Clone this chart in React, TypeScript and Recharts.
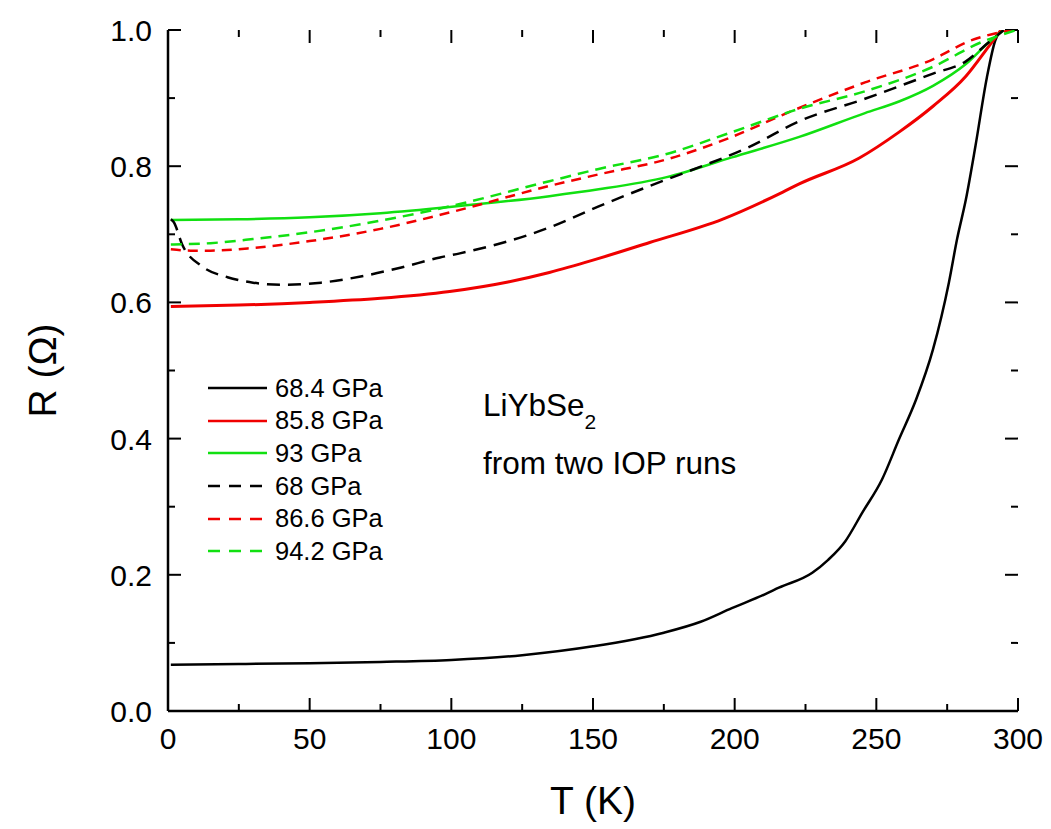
import { LineChart, Line, XAxis, YAxis, Legend, ReferenceLine } from 'recharts';

// R(T) curves
const t684 = [1, 25, 50, 75, 100, 125, 150, 175, 188, 199, 211, 215.6, 227.4, 233, 239, 245, 252, 258, 264, 270, 275.6, 278.5, 281.6, 285, 289, 292, 294];
const r684 = [0.068, 0.069, 0.07, 0.072, 0.075, 0.082, 0.095, 0.115, 0.131, 0.151, 0.172, 0.181, 0.203, 0.222, 0.249, 0.291, 0.34, 0.399, 0.457, 0.531, 0.629, 0.693, 0.751, 0.83, 0.93, 0.985, 1.0];

const t858 = [1, 25, 50, 75, 99.4, 120, 134.6, 150, 170, 195.6, 217, 222.8, 244, 258, 270, 281.6, 289.7, 294];
const r858 = [0.594, 0.596, 0.6, 0.606, 0.616, 0.63, 0.644, 0.662, 0.688, 0.722, 0.762, 0.774, 0.812, 0.85, 0.888, 0.932, 0.976, 1.0];

const t93 = [1, 25, 50, 75, 99.4, 134.6, 152, 176, 199, 222.8, 246, 258, 270, 281.6, 289.7, 295];
const r93 = [0.721, 0.722, 0.725, 0.731, 0.74, 0.756, 0.766, 0.784, 0.813, 0.843, 0.878, 0.895, 0.918, 0.95, 0.982, 1.0];

const t68 = [1, 2, 5, 12, 21, 30, 40, 54, 68, 82, 96, 103, 134.6, 152, 170, 184, 205, 222.8, 246, 270, 281.6, 289.7, 295];
const r68 = [0.722, 0.718, 0.685, 0.653, 0.637, 0.629, 0.626, 0.629, 0.638, 0.651, 0.666, 0.672, 0.71, 0.741, 0.771, 0.793, 0.828, 0.866, 0.899, 0.936, 0.954, 0.982, 1.0];

const t866 = [1, 8, 15, 30, 50, 75, 99.4, 134.6, 152, 176, 199, 219, 246, 270, 283, 298];
const r866 = [0.678, 0.676, 0.676, 0.68, 0.69, 0.708, 0.732, 0.771, 0.788, 0.81, 0.843, 0.879, 0.923, 0.957, 0.984, 1.0];

const t942 = [1, 15, 30, 50, 75, 99.4, 134.6, 152, 176, 199, 222.6, 246, 270, 287, 299.5];
const r942 = [0.685, 0.687, 0.693, 0.703, 0.72, 0.741, 0.778, 0.796, 0.818, 0.85, 0.884, 0.91, 0.946, 0.982, 1.0];

const xTicks = [0, 25, 50, 75, 100, 125, 150, 175, 200, 225, 250, 275, 300];
const yTicks = [0, 0.1, 0.2, 0.3, 0.4, 0.5, 0.6, 0.7, 0.8, 0.9, 1.0];

const toPoints = (t: number[], r: number[]) => t.map((T, i) => ({ T, R: r[i] }));

const series = [
  { name: '68.4 GPa', data: toPoints(t684, r684), color: '#000000', dash: undefined },
  { name: '85.8 GPa', data: toPoints(t858, r858), color: '#f00000', dash: undefined },
  { name: '93 GPa', data: toPoints(t93, r93), color: '#11e011', dash: undefined },
  { name: '68 GPa', data: toPoints(t68, r68), color: '#000000', dash: '13 8' },
  { name: '86.6 GPa', data: toPoints(t866, r866), color: '#f00000', dash: '10 7' },
  { name: '94.2 GPa', data: toPoints(t942, r942), color: '#11e011', dash: '11 7' },
];

const FONT = '"Liberation Sans", Arial, sans-serif';

// inward tick lengths (major / minor) converted to data units of each axis
const KX = 300 / 850;
const KY = 1 / 681;
const isMajorX = (v: number) => v % 50 === 0;
const isMajorY = (v: number) => Math.round(v * 10) % 2 === 0;
const len = (major: boolean) => (major ? 13 : 7);

const tickSegments = [
  ...xTicks.map((v) => [{ x: v, y: 0 }, { x: v, y: len(isMajorX(v)) * KY }]),
  ...xTicks.map((v) => [{ x: v, y: 1 }, { x: v, y: 1 - len(isMajorX(v)) * KY }]),
  ...yTicks.map((v) => [{ x: 0, y: v }, { x: len(isMajorY(v)) * KX, y: v }]),
  ...yTicks.map((v) => [{ x: 300, y: v }, { x: 300 - len(isMajorY(v)) * KX, y: v }]),
];

const XLabel = (props: any) => {
  const { x, y, payload } = props;
  if (!isMajorX(payload.value)) return <g />;
  return (
    <text x={x} y={y + 38} textAnchor="middle" fontSize={30} fontFamily={FONT} fill="#000">
      {payload.value}
    </text>
  );
};

const YLabel = (props: any) => {
  const { x, y, payload } = props;
  if (!isMajorY(payload.value)) return <g />;
  return (
    <text x={x - 16} y={y + 11} textAnchor="end" fontSize={30} fontFamily={FONT} fill="#000">
      {payload.value.toFixed(1)}
    </text>
  );
};

const renderLegend = () => (
  <div style={{ fontFamily: FONT, fontSize: 25.5, color: '#000' }}>
    {series.map((s) => (
      <div key={s.name} style={{ display: 'flex', alignItems: 'center', height: 32.6 }}>
        <svg width={59} height={6} style={{ marginRight: 8 }}>
          <line x1={0} x2={59} y1={3} y2={3} stroke={s.color} strokeWidth={2.5} strokeDasharray={s.dash ? '12 9' : undefined} />
        </svg>
        <span>{s.name}</span>
      </div>
    ))}
  </div>
);

const axisLine = { stroke: '#000', strokeWidth: 2.5 };

export default function App() {
  return (
    <div style={{ position: 'relative', width: 1043, height: 815 }}>
      <LineChart width={1043} height={815} margin={{ top: 22, right: 33, bottom: 52, left: 0 }}>
        <XAxis
          dataKey="T"
          type="number"
          domain={[0, 300]}
          ticks={xTicks}
          interval={0}
          allowDataOverflow
          height={60}
          tickLine={false}
          tickSize={0.01}
          tickMargin={0}
          axisLine={axisLine}
          tick={XLabel}
          label={({ viewBox }: any) => (
            <text x={viewBox.x + viewBox.width / 2} y={viewBox.y + 103} textAnchor="middle" fontSize={39} fontFamily={FONT} fill="#000">
              T (K)
            </text>
          )}
        />
        <XAxis
          xAxisId="top"
          orientation="top"
          dataKey="T"
          type="number"
          domain={[0, 300]}
          allowDataOverflow
          height={0}
          tick={false}
          tickLine={false}
          axisLine={axisLine}
        />
        <YAxis
          type="number"
          domain={[0, 1]}
          ticks={yTicks}
          interval={0}
          allowDataOverflow
          width={160}
          tickLine={false}
          tickSize={0.01}
          tickMargin={0}
          axisLine={axisLine}
          tick={YLabel}
          label={({ viewBox }: any) => {
            const cx = 34;
            const cy = viewBox.y + viewBox.height / 2;
            return (
              <text x={cx} y={cy} transform={`rotate(-90 ${cx} ${cy})`} textAnchor="middle" dominantBaseline="central" fontSize={39} fontFamily={FONT} fill="#000">
                R (Ω)
              </text>
            );
          }}
        />
        <YAxis
          yAxisId="right"
          orientation="right"
          type="number"
          domain={[0, 1]}
          allowDataOverflow
          width={0}
          tick={false}
          tickLine={false}
          axisLine={axisLine}
        />
        {tickSegments.map((seg, i) => (
          <ReferenceLine key={i} segment={seg} stroke="#000" strokeWidth={2} ifOverflow="visible" />
        ))}
        <Legend
          layout="vertical"
          align="center"
          verticalAlign="middle"
          wrapperStyle={{ left: 200, top: 364, width: 'auto' }}
          content={renderLegend}
        />
        {series.map((s) => (
          <Line
            key={s.name}
            name={s.name}
            data={s.data}
            dataKey="R"
            type="monotone"
            stroke={s.color}
            strokeWidth={s.name === '85.8 GPa' ? 3 : 2.5}
            strokeDasharray={s.dash}
            dot={false}
            activeDot={false}
            isAnimationActive={false}
          />
        ))}
      </LineChart>
      <div
        style={{
          position: 'absolute',
          left: 475,
          top: 370,
          fontFamily: FONT,
          fontSize: 31.5,
          lineHeight: '54px',
          color: '#000',
          whiteSpace: 'nowrap',
        }}
      >
        <div>
          LiYbSe<span style={{ fontSize: 21, position: 'relative', top: 13 }}>2</span>
        </div>
        <div>from two IOP runs</div>
      </div>
    </div>
  );
}
